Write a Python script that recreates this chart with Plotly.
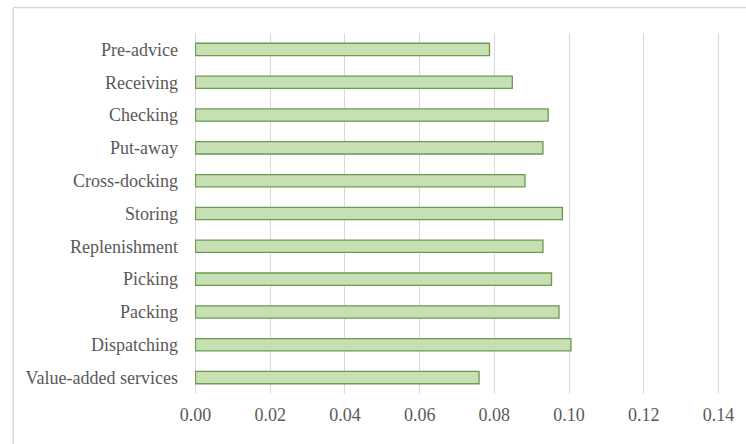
import plotly.graph_objects as go

categories = ["Pre-advice", "Receiving", "Checking", "Put-away", "Cross-docking",
              "Storing", "Replenishment", "Picking", "Packing", "Dispatching",
              "Value-added services"]
values = [0.0787, 0.0848, 0.0944, 0.0930, 0.0882, 0.0982, 0.0930, 0.0953, 0.0973, 0.1005, 0.0759]
x_ticks = [0.00, 0.02, 0.04, 0.06, 0.08, 0.10, 0.12, 0.14]
x_tick_labels = ["0.00", "0.02", "0.04", "0.06", "0.08", "0.10", "0.12", "0.14"]

W, H = 746, 444
ml, mr, mt, mb = 194.5, 25, 32.5, 50
GRID = "#d9d9d9"

fig = go.Figure(go.Bar(
    x=values, y=categories, orientation="h", width=0.375,
    marker=dict(color="#c6e0b4", line=dict(color="#6b9a4e", width=1.3)),
    hoverinfo="x+y",
))

# make sure the edge gridlines (0.00 and 0.14) are drawn
edge_lines = [dict(type="line", xref="x", yref="paper", x0=v, x1=v, y0=0, y1=1,
                   layer="below", line=dict(color=GRID, width=1.2))
              for v in (x_ticks[0], x_ticks[-1])]

fig.update_layout(
    width=W, height=H,
    margin=dict(l=ml, r=mr, t=mt, b=mb, pad=0),
    paper_bgcolor="white", plot_bgcolor="white",
    font=dict(family="Liberation Serif, Times New Roman, serif", size=18, color="#595959"),
    showlegend=False,
    xaxis=dict(range=[-0.00012, 0.14012], tickvals=x_ticks, ticktext=x_tick_labels,
               showgrid=True, gridcolor=GRID, gridwidth=1.2,
               zeroline=False, showline=False, ticks="", ticklabelstandoff=8,
               fixedrange=True),
    yaxis=dict(autorange="reversed", showgrid=False, zeroline=False, showline=False,
               ticks="", ticklabelstandoff=16, fixedrange=True),
    shapes=edge_lines + [
        dict(type="line", xref="paper", yref="paper",
             x0=(12 - ml) / (W - ml - mr), x1=(W + 10 - ml) / (W - ml - mr),
             y0=(H - mb - 7) / (H - mt - mb), y1=(H - mb - 7) / (H - mt - mb),
             line=dict(color=GRID, width=1.5)),
        dict(type="line", xref="paper", yref="paper",
             x0=(12 - ml) / (W - ml - mr), x1=(12 - ml) / (W - ml - mr),
             y0=(H - mb - 7) / (H - mt - mb), y1=(H - mb - H - 10) / (H - mt - mb),
             line=dict(color=GRID, width=1.5)),
    ],
)

fig.write_html("out.html", config={"displayModeBar": False},
               post_script="document.body.style.margin='0';document.body.style.overflow='hidden';")
